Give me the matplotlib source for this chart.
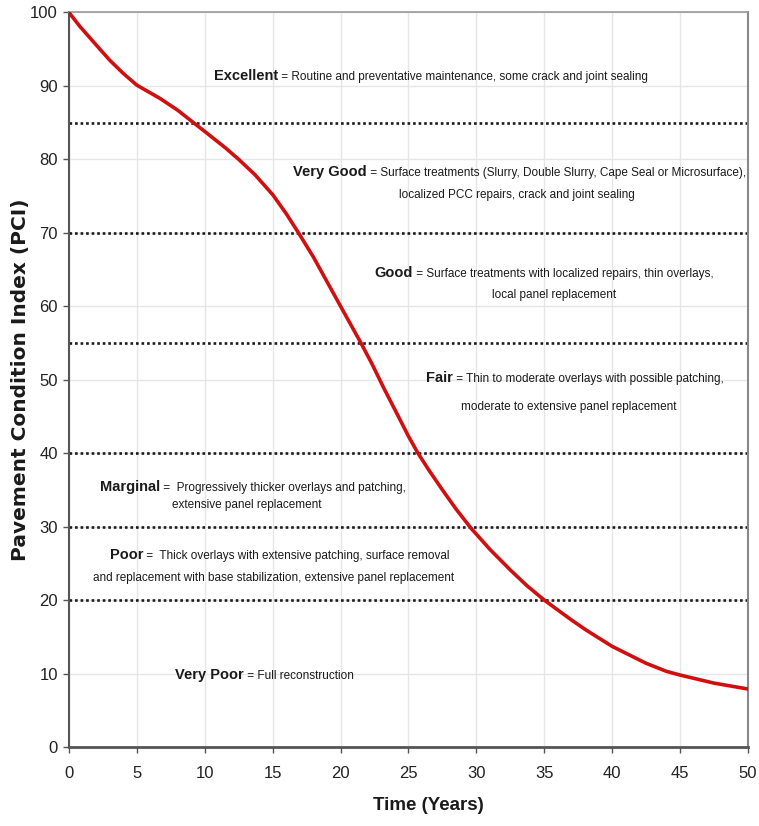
import matplotlib.pyplot as plt

# PCI deterioration curve
years = [0, 0.8, 1.8, 3, 4, 5, 6.7, 8, 9.1, 10, 11.5, 12.5, 13.7, 15, 16, 16.9, 18, 20, 21.5,
         22.3, 23.2, 24.2, 25, 25.7, 26.5, 27.5, 28.5, 29.6, 31, 32.5, 33.7, 35, 37, 38.1, 40,
         42.5, 44, 45, 47.5, 50]
pci = [100, 98.1, 96, 93.5, 91.7, 90.1, 88.3, 86.7, 85.1, 83.8, 81.6, 80.0, 77.9, 75.2, 72.6,
       70.0, 66.7, 60.0, 55.0, 52.2, 48.8, 45.2, 42.3, 40.0, 37.7, 35.0, 32.4, 29.8, 26.9,
       24.1, 22.0, 20.0, 17.3, 15.9, 13.7, 11.4, 10.3, 9.8, 8.7, 7.9]

# condition category boundaries
thresholds = [85, 70, 55, 40, 30, 20]

categories = ['Excellent', 'Very Good', 'Good', 'Fair', 'Marginal', 'Poor', 'Very Poor']
first_lines = [
    ' = Routine and preventative maintenance, some crack and joint sealing',
    ' = Surface treatments (Slurry, Double Slurry, Cape Seal or Microsurface),',
    ' = Surface treatments with localized repairs, thin overlays,',
    ' = Thin to moderate overlays with possible patching,',
    ' =  Progressively thicker overlays and patching,',
    ' =  Thick overlays with extensive patching, surface removal',
    ' = Full reconstruction',
]
second_lines = [
    '',
    'localized PCC repairs, crack and joint sealing',
    'local panel replacement',
    'moderate to extensive panel replacement',
    'extensive panel replacement',
    'and replacement with base stabilization, extensive panel replacement',
    '',
]

# text placement (data coords): left of first line, centre of second line
first_pos = [(10.7, 91.4), (16.5, 78.3), (22.5, 64.5), (26.3, 50.2), (2.3, 35.4), (3.0, 26.1), (7.8, 9.8)]
second_pos = [None, (33.0, 75.2), (35.7, 61.5), (36.8, 46.3), (13.1, 32.9), (15.1, 23.0), None]

narrow = ['Liberation Sans', 'DejaVu Sans']

fig = plt.figure(figsize=(7.59, 8.26), dpi=100)
ax = fig.add_axes([0.0909, 0.0956, 0.8946, 0.8893])

ax.set_xlim(0, 50)
ax.set_ylim(0, 100)
ax.set_xticks(range(0, 51, 5))
ax.set_yticks(range(0, 101, 10))

# faint grid
ax.grid(True, color='#e6e6e6', linewidth=1.0)
ax.set_axisbelow(True)

for t in thresholds:
    ax.axhline(t, color='#1a1a1a', linestyle=(0, (1, 1.1)), linewidth=1.9, zorder=2)

ax.plot(years, pci, color='#d01010', linewidth=2.6, zorder=3, solid_joinstyle='round')

for i in range(len(categories)):
    x, y = first_pos[i]
    lab = ax.text(x, y, categories[i], fontsize=10.5, fontweight='bold', family=narrow,
                  ha='left', va='center', color='#1a1a1a', zorder=4)
    ax.annotate(first_lines[i], xy=(1, 0), xycoords=lab, ha='left', va='bottom',
                fontsize=8.5, family=narrow, color='#1a1a1a', zorder=4)
    if second_lines[i]:
        sx, sy = second_pos[i]
        ax.text(sx, sy, second_lines[i], fontsize=8.5, family=narrow, ha='center',
                va='center', color='#1a1a1a', zorder=4)

# frame
ax.spines['left'].set_color('#555555')
ax.spines['left'].set_linewidth(1.5)
ax.spines['bottom'].set_color('#555555')
ax.spines['bottom'].set_linewidth(2.0)
ax.spines['top'].set_color('#999999')
ax.spines['top'].set_linewidth(1.2)
ax.spines['right'].set_color('#888888')
ax.spines['right'].set_linewidth(1.5)

ax.tick_params(axis='both', length=4, width=1, color='#555555', labelcolor='#222222')
ax.tick_params(axis='x', pad=10)
ax.tick_params(axis='y', pad=4)
for lbl in ax.get_xticklabels() + ax.get_yticklabels():
    lbl.set_family(narrow)
    lbl.set_fontsize(12)

ax.set_xlabel('Time (Years)', fontsize=13.5, fontweight='bold', family=narrow, color='#1a1a1a')
ax.set_ylabel('Pavement Condition Index (PCI)', fontsize=14.5, fontweight='bold',
              family='DejaVu Sans', color='#1a1a1a')
ax.xaxis.set_label_coords(0.53, -0.068)
ax.yaxis.set_label_coords(-0.058, 0.5)

plt.savefig('out.png', dpi=100)
